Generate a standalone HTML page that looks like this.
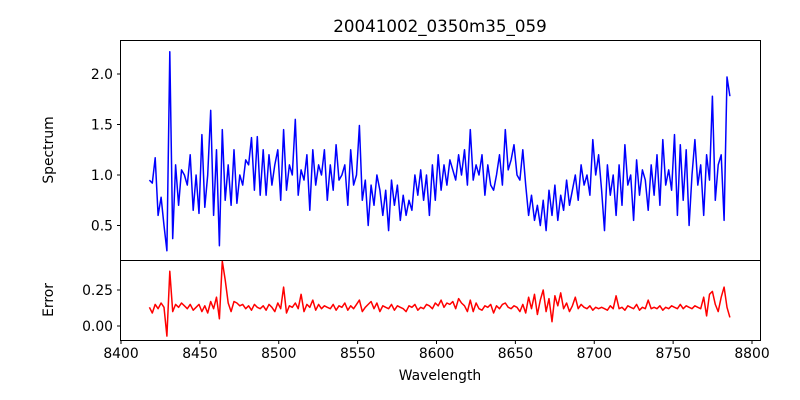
<!DOCTYPE html>
<html><head><meta charset="utf-8"><style>
html,body{margin:0;padding:0;background:#fff;}
svg{display:block;font-family:"DejaVu Sans","Liberation Sans",sans-serif;}
</style></head><body>
<svg id="chart" width="800" height="400" viewBox="0 0 800 400" xmlns="http://www.w3.org/2000/svg">
<rect width="800" height="400" fill="#fff"/>
<text x="440" y="32" font-size="16.7" text-anchor="middle">20041002_0350m35_059</text>
<text transform="translate(53,150) rotate(-90)" font-size="13.9" text-anchor="middle">Spectrum</text>
<text transform="translate(53,300) rotate(-90)" font-size="13.9" text-anchor="middle">Error</text>
<text x="440" y="380" font-size="13.9" text-anchor="middle">Wavelength</text>
<g id="g"></g>
</svg>
<script>
const wlStart = 8418, wlEnd = 8786;
const spectrum = [0.95,0.92,1.17,0.6,0.78,0.5,0.25,2.22,0.37,1.1,
0.7,1.05,1.0,0.9,1.2,0.65,1.0,0.62,1.4,0.68,
1.0,1.64,0.6,1.25,0.3,1.45,0.75,1.1,0.7,1.25,
0.72,1.0,0.9,1.15,1.1,1.37,0.85,1.38,0.8,1.25,
0.8,1.2,0.9,1.1,1.25,0.75,1.45,0.85,1.1,1.0,
1.55,0.8,1.05,0.95,1.2,0.65,1.25,0.9,1.1,1.0,
1.25,0.75,1.1,0.85,1.3,0.95,1.0,1.1,0.7,1.25,
0.9,1.0,1.49,0.75,0.95,0.5,0.9,0.7,1.0,0.85,
0.6,0.85,0.45,0.95,0.7,0.9,0.55,0.8,0.6,0.75,
0.65,1.0,0.8,1.05,0.75,1.0,0.6,1.1,0.75,1.2,
0.85,1.1,0.9,1.15,1.05,0.95,1.2,1.0,1.25,0.9,
1.45,0.95,1.1,1.0,1.2,0.8,1.1,0.9,0.85,1.0,
1.2,0.9,1.45,1.05,1.15,1.3,1.0,0.95,1.25,0.9,
0.6,0.8,0.55,0.7,0.5,0.75,0.45,0.85,0.6,0.9,
0.55,0.8,0.65,0.95,0.7,0.85,1.0,0.75,1.1,0.9,
1.0,0.8,1.35,1.0,1.2,0.85,0.45,1.1,0.8,1.0,
0.6,1.1,0.7,1.3,0.9,1.0,0.55,1.15,0.8,1.05,
0.95,0.65,1.1,0.8,1.2,0.7,1.35,0.9,1.05,0.85,
1.4,0.6,1.3,0.75,1.25,0.5,1.0,1.35,0.9,1.1,
0.6,1.2,0.95,1.78,0.75,1.1,1.2,0.55,1.97,1.78];
const errorVals = [0.13,0.09,0.15,0.12,0.16,0.13,-0.07,0.38,0.1,0.15,
0.13,0.16,0.14,0.12,0.15,0.11,0.13,0.15,0.1,0.14,
0.09,0.17,0.12,0.2,0.05,0.45,0.32,0.16,0.1,0.17,
0.16,0.14,0.15,0.12,0.14,0.11,0.15,0.13,0.12,0.14,
0.11,0.15,0.13,0.1,0.16,0.12,0.27,0.09,0.14,0.13,
0.16,0.12,0.22,0.1,0.15,0.13,0.18,0.11,0.15,0.12,
0.14,0.13,0.12,0.15,0.11,0.14,0.13,0.16,0.11,0.14,
0.12,0.15,0.18,0.1,0.13,0.15,0.17,0.12,0.16,0.1,
0.14,0.13,0.12,0.15,0.11,0.14,0.13,0.12,0.1,0.14,
0.13,0.15,0.11,0.13,0.12,0.15,0.14,0.12,0.16,0.14,
0.18,0.13,0.16,0.15,0.17,0.12,0.19,0.16,0.14,0.1,
0.18,0.1,0.16,0.12,0.11,0.14,0.13,0.15,0.09,0.14,
0.12,0.15,0.16,0.13,0.12,0.14,0.13,0.1,0.15,0.09,
0.2,0.12,0.22,0.08,0.18,0.25,0.1,0.19,0.03,0.21,
0.14,0.23,0.12,0.16,0.1,0.14,0.2,0.12,0.15,0.13,
0.12,0.14,0.11,0.13,0.12,0.13,0.12,0.11,0.14,0.12,
0.21,0.12,0.13,0.11,0.14,0.13,0.12,0.15,0.11,0.13,
0.12,0.18,0.12,0.13,0.12,0.14,0.11,0.13,0.12,0.14,
0.13,0.12,0.15,0.12,0.14,0.13,0.12,0.14,0.13,0.12,
0.2,0.07,0.22,0.24,0.15,0.1,0.2,0.27,0.13,0.06];
const xTicks = [8400,8450,8500,8550,8600,8650,8700,8750,8800];
const specTicks = [0.5,1.0,1.5,2.0];
const specTickLabels = ["0.5","1.0","1.5","2.0"];
const errTicks = [0.0,0.25];
const errTickLabels = ["0.00","0.25"];

const NS="http://www.w3.org/2000/svg";
const g=document.getElementById('g');
const X=w=>121+(w-8400)*631/400;
const Ys=v=>175-(v-1)*101;
const Ye=v=>326-v*144;
function mk(tag,attrs){const e=document.createElementNS(NS,tag);for(const k in attrs)e.setAttribute(k,attrs[k]);g.appendChild(e);return e;}
function wl(i,n){return wlStart+(wlEnd-wlStart)*i/(n-1);}

let d=spectrum.map((v,i)=>(i?'L':'M')+X(wl(i,spectrum.length)).toFixed(1)+','+Ys(v).toFixed(1)).join('');
let p=mk('path',{d:d,fill:'none',stroke:'#0000ff','stroke-width':1.5,'stroke-linejoin':'round'});


d=errorVals.map((v,i)=>(i?'L':'M')+X(wl(i,errorVals.length)).toFixed(1)+','+Ye(v).toFixed(1)).join('');
p=mk('path',{d:d,fill:'none',stroke:'#ff0000','stroke-width':1.5,'stroke-linejoin':'round'});



let r=mk('rect',{x:120.5,y:40.5,width:640,height:220,fill:'none',stroke:'#000','stroke-width':1});


r=mk('rect',{x:120.5,y:260.5,width:640,height:80,fill:'none',stroke:'#000','stroke-width':1});



xTicks.forEach(t=>{const x=X(t);
 let l=mk('line',{x1:x,x2:x,y1:340.5,y2:344,stroke:'#000'});
 
 
 let tx=mk('text',{x:x,y:358,'font-size':13.9,'text-anchor':'middle'});tx.textContent=t;
 
 
});
specTicks.forEach((t,i)=>{const y=Ys(t);
 let l=mk('line',{x1:117,x2:120.5,y1:y,y2:y,stroke:'#000'});
 
 
 let tx=mk('text',{x:113,y:y+5,'font-size':13.9,'text-anchor':'end'});tx.textContent=specTickLabels[i];
 
 
});
errTicks.forEach((t,i)=>{const y=Ye(t);
 let l=mk('line',{x1:117,x2:120.5,y1:y,y2:y,stroke:'#000'});
 
 
 let tx=mk('text',{x:113,y:y+5,'font-size':13.9,'text-anchor':'end'});tx.textContent=errTickLabels[i];
 
 
});
</script>
</body></html>
